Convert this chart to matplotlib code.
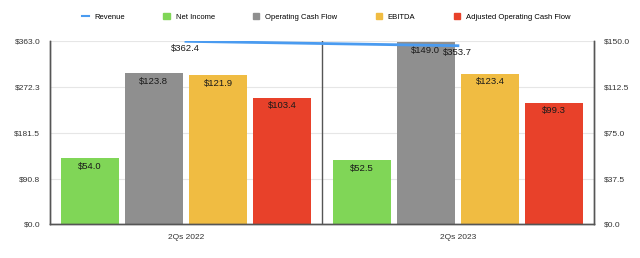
import numpy as np
import matplotlib.pyplot as plt
from matplotlib.patches import Patch
from matplotlib.lines import Line2D

# data
categories = ["2Qs 2022", "2Qs 2023"]
revenue = [362.4, 353.7]
net_income = [54.0, 52.5]
op_cash_flow = [123.8, 149.0]
ebitda = [121.9, 123.4]
adj_op_cash_flow = [103.4, 99.3]

left_ticks = [0.0, 90.8, 181.5, 272.3, 363.0]
right_ticks = [0.0, 37.5, 75.0, 112.5, 150.0]

bar_series = [
    ("Net Income", net_income, "#80d657"),
    ("Operating Cash Flow", op_cash_flow, "#8f8f8f"),
    ("EBITDA", ebitda, "#f0bc42"),
    ("Adjusted Operating Cash Flow", adj_op_cash_flow, "#e8412a"),
]
line_color = "#4a9bf0"

plt.rcParams['font.family'] = ['Liberation Sans', 'DejaVu Sans']

fig = plt.figure(figsize=(6.4, 2.58), dpi=100)
ax = fig.add_axes([0.078, 0.130, 0.850, 0.711])
ax2 = ax.twinx()

x = np.arange(len(categories))
width = 0.213
offsets = [-0.353, -0.118, 0.118, 0.353]

# bars on the right axis
for (name, vals, col), off in zip(bar_series, offsets):
    bars = ax2.bar(x + off, vals, width=width, color=col, zorder=2)
    for b, v in zip(bars, vals):
        ax2.annotate(f"${v:.1f}", (b.get_x() + b.get_width() / 2, v),
                     xytext=(0, -2.5), textcoords="offset points",
                     ha="center", va="top", fontsize=6.8, color="#1a1a1a", zorder=4)

# revenue line on the left axis
ax.set_zorder(ax2.get_zorder() + 1)
ax.patch.set_visible(False)
ax.plot(x, revenue, color=line_color, linewidth=2, zorder=3)
for xi, v in zip(x, revenue):
    ax.annotate(f"${v:.1f}", (xi, v), xytext=(0, -2), textcoords="offset points",
                ha="center", va="top", fontsize=6.8, color="#1a1a1a")

ax.set_xlim(-0.5, 1.5)
ax.set_ylim(0, 363)
ax2.set_ylim(0, 150)
ax.set_yticks(left_ticks)
ax.set_yticklabels([f"${t:.1f}" for t in left_ticks])
ax2.set_yticks(right_ticks)
ax2.set_yticklabels([f"${t:.1f}" for t in right_ticks])
ax.set_xticks(x)
ax.set_xticklabels(categories)

for a in (ax, ax2):
    a.tick_params(length=0, labelsize=6, colors="#333333", pad=7)
    a.spines["top"].set_visible(False)
    for s in ("left", "right", "bottom"):
        a.spines[s].set_color("#555555")
        a.spines[s].set_linewidth(1)

ax2.yaxis.grid(True, color="#e6e6e6", linewidth=0.8, zorder=0)
ax2.set_axisbelow(True)
ax.axvline(0.5, color="#555555", linewidth=1, zorder=1)

handles = [Line2D([0], [0], color=line_color, linewidth=1.5)]
labels = ["Revenue"]
for name, vals, col in bar_series:
    handles.append(Patch(color=col))
    labels.append(name)
fig.legend(handles, labels, loc="upper center", bbox_to_anchor=(0.51, 0.975), ncol=5,
           frameon=False, prop={"family": ["Liberation Sans"], "size": 5.5},
           handlelength=0.8, handleheight=0.8,
           columnspacing=5.0, handletextpad=0.8)

fig.savefig("out.png", dpi=100)
